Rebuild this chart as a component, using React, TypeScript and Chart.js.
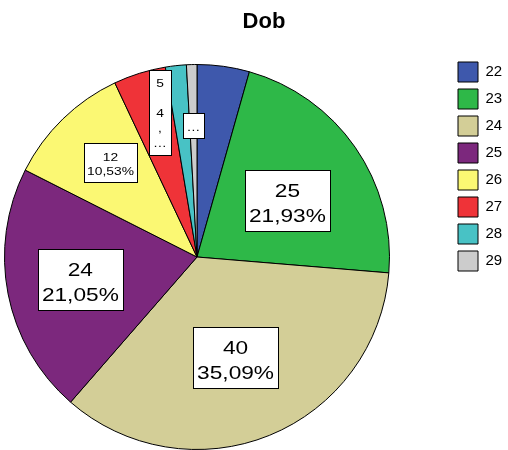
import React, { useEffect, useRef } from 'react';
import { Chart, registerables } from 'chart.js';

Chart.register(...registerables);

// ---- data ----
const titleText = 'Dob';
const categories = ['22', '23', '24', '25', '26', '27', '28', '29'];
const counts = [5, 25, 40, 24, 12, 5, 2, 1];
const colors = ['#3E58AC', '#2EB848', '#D3CE97', '#7C287D', '#FBF873', '#EF3338', '#48C2C5', '#CCCCCC'];

const FONT = "Arial, 'Liberation Sans', sans-serif";

// label box styling per slice (null = no label shown)
type Spec = { dist: number; da: number; mode: 'full' | 'wrap' | 'ellipsis'; size: number; w: number; h: number; gap: number; shift: number; sx: number } | null;
const labelSpecs: Spec[] = [
  null,
  { dist: 0.554, da: 2.7, mode: 'full', size: 18.6, w: 85, h: 61, gap: 25, shift: 2, sx: 1.22 },
  { dist: 0.559, da: 1.1, mode: 'full', size: 18.6, w: 85, h: 61, gap: 25, shift: 2, sx: 1.22 },
  { dist: 0.617, da: 0.2, mode: 'full', size: 18.6, w: 85, h: 61, gap: 25, shift: 2, sx: 1.22 },
  { dist: 0.665, da: 1.7, mode: 'full', size: 11.5, w: 53, h: 39, gap: 14, shift: 1.5, sx: 1.2 },
  { dist: 0.775, da: 3.0, mode: 'wrap', size: 11.5, w: 22, h: 85, gap: 15, shift: 0, sx: 1.2 },
  null,
  { dist: 0.683, da: 0, mode: 'ellipsis', size: 11.5, w: 21, h: 25, gap: 15, shift: 1.5, sx: 1.2 },
];

const boxLabels = {
  id: 'boxLabels',
  afterDatasetsDraw(chart: any) {
    const meta = chart.getDatasetMeta(0);
    const data = chart.data.datasets[0].data as number[];
    const total = data.reduce((a, b) => a + b, 0);
    const ctx: CanvasRenderingContext2D = chart.ctx;
    meta.data.forEach((arc: any, i: number) => {
      const spec = labelSpecs[i];
      if (!spec) return;
      const { x, y, startAngle, endAngle, outerRadius } = arc.getProps(
        ['x', 'y', 'startAngle', 'endAngle', 'outerRadius'], true);
      const mid = (startAngle + endAngle) / 2 + (spec.da * Math.PI) / 180;
      const cx = x + Math.cos(mid) * spec.dist * outerRadius;
      const cy = y + Math.sin(mid) * spec.dist * outerRadius;
      const v = data[i];
      const pct = (v / total * 100).toFixed(2).replace('.', ',') + '%';
      let lines: string[];
      if (spec.mode === 'full') lines = [String(v), pct];
      else if (spec.mode === 'wrap') lines = [String(v), '', pct.charAt(0), pct.charAt(1), '\u2026'];
      else lines = ['\u2026'];

      ctx.save();
      const bx = Math.round(cx - spec.w / 2) + 0.5;
      const by = Math.round(cy - spec.h / 2) + 0.5;
      ctx.fillStyle = '#ffffff';
      ctx.fillRect(bx, by, spec.w, spec.h);
      ctx.strokeStyle = '#000000';
      ctx.lineWidth = 1;
      ctx.strokeRect(bx, by, spec.w, spec.h);

      ctx.fillStyle = '#000000';
      ctx.font = `${spec.size}px ${FONT}`;
      ctx.textAlign = 'center';
      ctx.textBaseline = 'alphabetic';
      const n = lines.length;
      lines.forEach((ln, k) => {
        if (!ln) return;
        const lineCenter = cy + (k - (n - 1) / 2) * spec.gap + spec.shift;
        const base = lineCenter + 0.358 * spec.size;
        ctx.save();
        ctx.translate(cx, base);
        ctx.scale(spec.sx, 1);
        ctx.fillText(ln, 0, 0);
        ctx.restore();
      });
      ctx.restore();
    });
  },
};

// move title and legend to where the reference has them
const placeBoxes = {
  id: 'placeBoxes',
  afterLayout(chart: any) {
    const lg = chart.legend;
    if (lg) {
      lg.left = 451; lg.top = 55; lg.right = 508; lg.bottom = 450;
      lg.width = 57; lg.height = 395;
    }
    const t = chart.titleBlock;
    if (t) {
      t.left = 20; t.right = 508; t.width = 488;
    }
  },
};

export default function App() {
  const ref = useRef<HTMLCanvasElement | null>(null);

  useEffect(() => {
    if (!ref.current) return;
    const chart = new Chart(ref.current, {
      type: 'pie',
      data: {
        labels: categories,
        datasets: [{
          data: counts,
          backgroundColor: colors,
          borderColor: '#000000',
          borderWidth: 1,
          hoverOffset: 0,
        }],
      },
      options: {
        responsive: true,
        maintainAspectRatio: false,
        animation: false,
        devicePixelRatio: 1,
        layout: { padding: { left: 4, right: 118, top: 0, bottom: 0 } },
        plugins: {
          title: {
            display: true,
            text: titleText,
            color: '#000000',
            font: { family: FONT, size: 22, weight: 'bold', lineHeight: 1.2 },
            padding: { top: 9, bottom: 28.6 },
          },
          legend: {
            display: true,
            position: 'chartArea',
            fullSize: false,
            align: 'start',
            labels: {
              boxWidth: 20,
              boxHeight: 20,
              padding: 7,
              color: '#000000',
              font: { family: FONT, size: 15 },
            },
          },
          tooltip: { enabled: false },
        },
      } as any,
      plugins: [placeBoxes, boxLabels],
    });
    return () => chart.destroy();
  }, []);

  return (
    <div style={{ position: 'absolute', left: 0, top: 0, width: 508, height: 450 }}>
      <canvas ref={ref} />
    </div>
  );
}
